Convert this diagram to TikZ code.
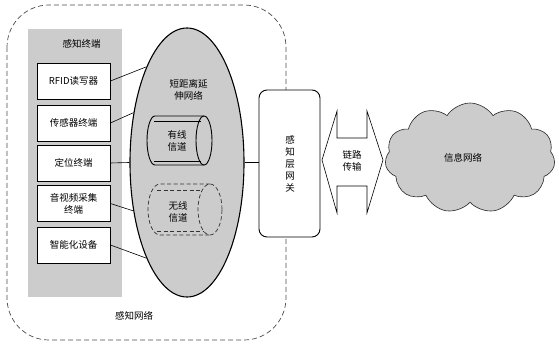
\documentclass[tikz,border=0pt]{standalone}
\usepackage{fontspec}
\setmainfont{Noto Sans CJK SC}
\usetikzlibrary{shapes.geometric,shapes.symbols}
\definecolor{fillg}{gray}{0.80}
\definecolor{dashg}{gray}{0.30}
\tikzset{
  txt/.style={font=\fontsize{9.5pt}{12pt}\selectfont, align=center, inner sep=0pt},
  termbox/.style={draw=black, line width=0.9pt, fill=white, minimum width=73pt, minimum height=36pt, inner sep=0pt, txt},
  conn/.style={draw=black, line width=0.6pt},
  cylline/.style={draw=black, line width=0.9pt},
  cyldash/.style={draw=black!80, line width=0.7pt, dash pattern=on 4pt off 2.5pt},
}
\begin{document}
\begin{tikzpicture}[x=1pt,y=-1pt]
\useasboundingbox (0,0) rectangle (559,344);
% outer dashed region
\draw[dashg, line width=0.7pt, dash pattern=on 5pt off 3pt, rounded corners=42pt] (7,5) rectangle (286,340);
% gray panel
\fill[fillg] (28,29) rectangle (122,297);
\node[txt] (ttl) at (81.5,43.5) {感知终端};
% terminal boxes
\node[termbox] (b1) at (73.5,81) {RFID读写器};
\node[termbox] (b2) at (73.5,123) {传感器终端};
\node[termbox] (b3) at (73.5,163) {定位终端};
\node[termbox] (b4) at (73.5,203.5) {音视频采集\\终端};
\node[termbox] (b5) at (73.5,245) {智能化设备};
% ellipse
\node[ellipse, draw=black, line width=1.1pt, fill=fillg, minimum width=114pt, minimum height=269pt, inner sep=0pt] (E) at (187,162.5) {};
\node[txt] (Et) at (188.5,90) {短距离延\\伸网络};
% connectors
\draw[conn] (b1.east) -- (E.113);
\draw[conn] (b2.east) -- (E.137);
\draw[conn] (b3.east) -- (E.180);
\draw[conn] (b4.east) -- (E.222);
\draw[conn] (b5.east) -- (E.247);
% wired cylinder
\draw[cylline] (204,116) -- (155,116) arc[start angle=90, end angle=270, x radius=8pt, y radius=24.5pt] -- (204,165);
\draw[cylline] (204,140.5) ellipse [x radius=8pt, y radius=24.5pt];
\draw[black, line width=0.6pt] (154,121) -- (201,121);
\draw[black, line width=0.6pt] (154,161) -- (201,161);
\node[txt] (c1) at (177,141) {有线\\信道};
% wireless cylinder
\draw[cyldash] (210,184) -- (160,184) arc[start angle=90, end angle=270, x radius=12pt, y radius=25.5pt] -- (210,235);
\draw[cyldash] (210,209.5) ellipse [x radius=12pt, y radius=25.5pt];
\draw[cyldash] (157,190.5) -- (202,190.5);
\draw[cyldash] (157,231.5) -- (203,231.5);
\node[txt] (c2) at (178,212) {无线\\信道};
% label
\node[txt] (lbl) at (134,316) {感知网络};
% gateway
\node[draw=black, line width=0.9pt, fill=white, rounded corners=8pt, minimum width=61pt, minimum height=147pt, inner sep=0pt] (gw) at (289.5,163.5) {};
\node[txt] (gwt) at (290,164) {感\\知\\层\\网\\关};
\draw[conn] (E.east) -- (E.east -| gw.west);
% double arrow
\draw[black, line width=0.6pt, fill=white] (322,160) -- (337,111) -- (337,138) -- (367,138) -- (367,111) -- (383,160) -- (367,213) -- (367,186) -- (337,186) -- (337,213) -- cycle;
\node[txt] (lt) at (352,161) {链路\\传输};
% cloud
\node[cloud, draw=black!85, line width=0.6pt, fill=fillg, cloud puffs=11, cloud puff arc=115, aspect=1.65, minimum width=170pt, minimum height=110pt, inner sep=0pt] (cl) at (470,158) {};
\node[txt] (clt) at (463,158) {信息网络};
\end{tikzpicture}
\end{document}
